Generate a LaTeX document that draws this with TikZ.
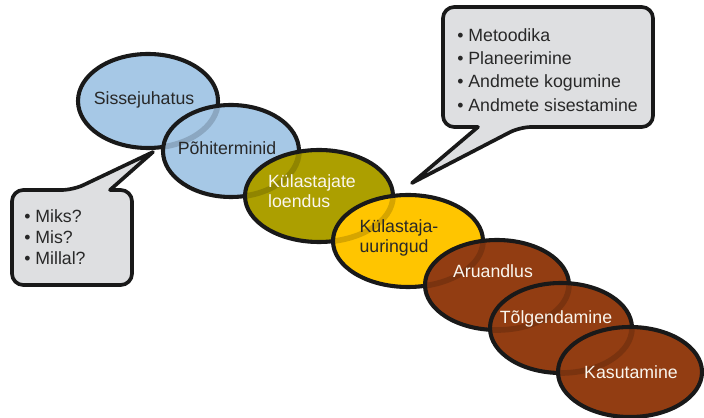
\documentclass[tikz,border=0pt]{standalone}
\usepackage{fontspec}
\setmainfont{Liberation Sans}
\usepackage{tikz}
\usetikzlibrary{positioning, shapes, calc}
\definecolor{stageblue}{RGB}{166,200,230}
\definecolor{stageolive}{RGB}{172,159,0}
\definecolor{stageyellow}{RGB}{255,197,0}
\definecolor{stagebrown}{RGB}{146,61,18}
\definecolor{bubblegray}{RGB}{222,223,225}
\definecolor{inkdark}{RGB}{40,40,40}
\definecolor{inklight}{RGB}{250,246,238}

\begin{document}
\begin{tikzpicture}[x=0.025cm, y=-0.025cm,
		stage/.style={line width=2.9pt, draw=black!90},
		ghost/.style={line width=4pt, draw=black, draw opacity=0.16},
		bubble/.style={line width=2.6pt, draw=black!90, fill=bubblegray, line join=round},
		darklbl/.style={text=inkdark, font=\fontsize{12.6}{14}\selectfont, align=left, inner sep=0pt},
		lightlbl/.style={darklbl, text=inklight},
		bubblelbl/.style={darklbl, anchor=west}]
				\useasboundingbox (0,0) rectangle (704,418);
				
				% speech bubbles
				\draw [bubble] (12,240) [rounded corners=8pt] -- (12,190) -- (73,190) [sharp corners] -- (153,152) -- (110,190) [rounded corners=8pt] -- (132,190) -- (132,285) -- (12,285) -- cycle;
				\node [bubblelbl, font=\fontsize{12.6}{15}\selectfont] (why) at (24,237) {\textbullet\ Miks?\\ \textbullet\ Mis?\\ \textbullet\ Millal?};
				
				\draw [bubble] (653,60) [rounded corners=8pt] -- (653,127) -- (520,127) [sharp corners] -- (412,183) -- (478,127) [rounded corners=8pt] -- (443,127) -- (443,7) -- (653,7) -- cycle;
				\node [bubblelbl, font=\fontsize{12.6}{16.6}\selectfont] (method) at (457,70) {\textbullet\ Metoodika\\ \textbullet\ Planeerimine\\ \textbullet\ Andmete kogumine\\ \textbullet\ Andmete sisestamine};
				
				% stages, each one showing the rim of the one before it
				\foreach \cx/\cy/\rx/\ry/\col [remember=\cx as \px (initially -900), remember=\cy as \py (initially 0), remember=\rx as \prx (initially 1), remember=\ry as \pry (initially 1)] in {148/101/70/47/stageblue, 231/151/68/46/stageblue, 319/196/74/46/stageolive, 408/241/75/46/stageyellow, 497/285/72/45/stagebrown, 561/328/71/45/stagebrown, 630/372/72/45/stagebrown}
				{
					\fill [\col] (\cx,\cy) ellipse [x radius=\rx, y radius=\ry];
					\begin{scope}
						\clip (\cx,\cy) ellipse [x radius=\rx, y radius=\ry];
						\draw [ghost] (\px,\py) ellipse [x radius=\prx, y radius=\pry];
					\end{scope}
					\draw [stage] (\cx,\cy) ellipse [x radius=\rx, y radius=\ry];
				}
				
				\node [darklbl] (intro) at (144,100) {Sissejuhatus};
				\node [darklbl] (terms) at (227,148) {Põhiterminid};
				\node [lightlbl] (count) at (312,191) {Külastajate\\loendus};
				\node [darklbl] (survey) at (399,238) {Külastaja-\\uuringud};
				\node [lightlbl] (report) at (493,271) {Aruandlus};
				\node [lightlbl] (interpret) at (556,319) {Tõlgendamine};
				\node [lightlbl] (use) at (631,372) {Kasutamine};
\end{tikzpicture}
\end{document}
